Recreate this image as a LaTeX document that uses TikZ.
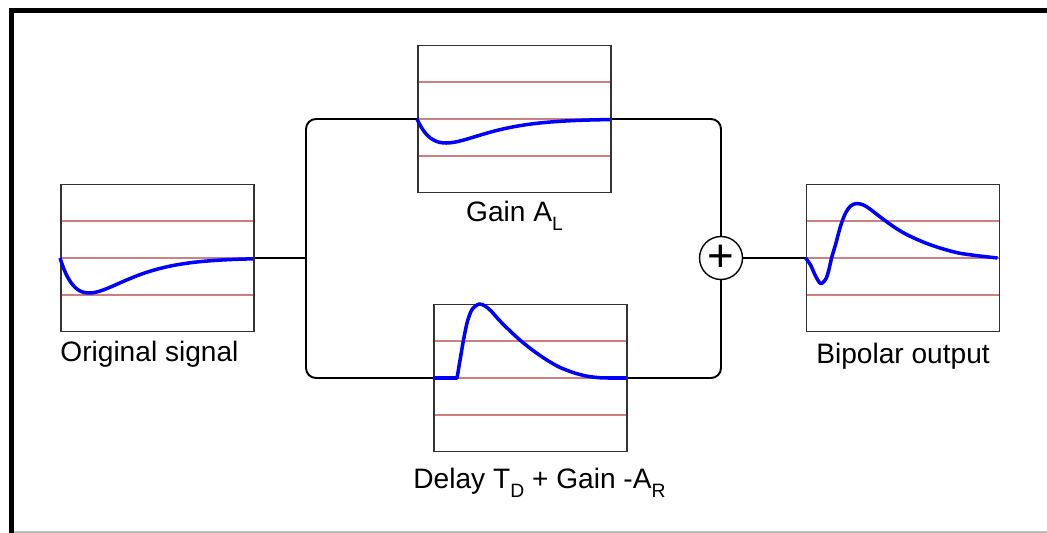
\documentclass[tikz,border=0pt]{standalone}
\usepackage{fontspec}
\setmainfont{Liberation Sans}
\usepackage{xcolor}
\usetikzlibrary{positioning,backgrounds,calc}

\definecolor{gridred}{RGB}{206,128,128}
\newcommand{\lowsub}[1]{\raisebox{-5.5pt}{\fontsize{11}{11}\selectfont #1}}

\begin{document}
\begin{tikzpicture}[
  x=0.02cm, y=-0.02cm,
  font=\fontsize{16}{19}\selectfont,
  plotbox/.style={draw=black!80, line width=1.1pt, minimum width=3.86cm,
            minimum height=2.94cm, inner sep=0pt},
  txt/.style={inner sep=0pt},
  sumnode/.style={draw, circle, line width=0.8pt, minimum size=0.86cm,
            inner sep=0pt},
  wire/.style={line width=1.1pt, rounded corners=0.2cm},
  signal/.style={blue, line width=2pt, line join=round},
  gridline/.style={draw=gridred, line width=1pt}
]
\useasboundingbox (0,0) rectangle (1047,533);

% frame
\draw[line width=0.1cm] (9,10.5) -- (1047,10.5);
\draw[line width=0.1cm] (11.5,8) -- (11.5,533);
\draw[black!25, line width=0.8pt] (14,532) -- (1047,532);

\node[plotbox] (orig) at (157.5,258) {};
\node[plotbox] (gain) at (514.5,119) {};
\node[plotbox] (delay) at (530.5,378) {};
\node[sumnode] (sum) at (721,258) {\fontsize{26}{26}\selectfont +};
\node[plotbox] (out) at (903,258) {};

\node[txt, below=1.6mm of orig.south west, anchor=north west] (origlbl) {Original signal};
\node[txt, below=1.4mm of gain] (gainlbl) {Gain A\lowsub{L}};
\node[txt, below=3mm of delay, xshift=0.18cm] (delaylbl) {Delay T\lowsub{D} + Gain -A\lowsub{R}};
\node[txt, below=2mm of out] (outlbl) {Bipolar output};

% reference lines in each plot
\begin{scope}[on background layer]
\foreach \b in {orig,gain,delay,out}
  \foreach \f in {0.25,0.5,0.75}
    \draw[gridline] ($(\b.north west)!\f!(\b.south west)$) -- ($(\b.north east)!\f!(\b.south east)$);
\end{scope}

% connections
\coordinate (split) at (306,258);
\draw[wire] (orig.east) -- (split);
\draw[wire] (gain.west) -| (split) |- (delay.west);
\draw[wire] (gain.east) -| (sum.north);
\draw[wire] (delay.east) -| (sum.south);
\draw[wire] (sum.east) -- (out.west);

% signals
\begin{scope}[shift={(orig.west)}]
  \draw[signal] plot[domain=0:193, samples=100] (\x, {35*(\x/29)*exp(1-\x/29)});
\end{scope}
\begin{scope}[shift={(gain.west)}]
  \draw[signal] plot[domain=0:193, samples=100] (\x, {24*(\x/29)*exp(1-\x/29)});
\end{scope}
\begin{scope}[shift={(delay.west)}]
  \draw[signal] (0,0) -- (24,0) -- plot[smooth] coordinates {(24,0) (27.5,-21)
    (31,-41) (34.5,-57) (39,-68.5) (46,-74) (52,-72) (58,-67) (66,-58)
    (77,-47) (88,-37) (100,-27.5) (113,-18.5) (126,-11) (140,-5.5) (153,-2)
    (166,-0.3) (176,0)} -- (193,0);
\end{scope}
\begin{scope}[shift={(out.west)}]
  \draw[signal] plot[smooth] coordinates {(0,0) (5,7) (10,18) (15,25.5)
    (20,21.5) (23,13) (26,0) (30,-13.5) (35,-32) (40,-45) (45,-52) (51,-54.5)
    (58,-53) (65,-48.5) (76,-40) (90,-30) (103,-22.5) (120,-15) (136,-9.5)
    (153,-5) (170,-2.5) (192,0)};
\end{scope}
\end{tikzpicture}
\end{document}
